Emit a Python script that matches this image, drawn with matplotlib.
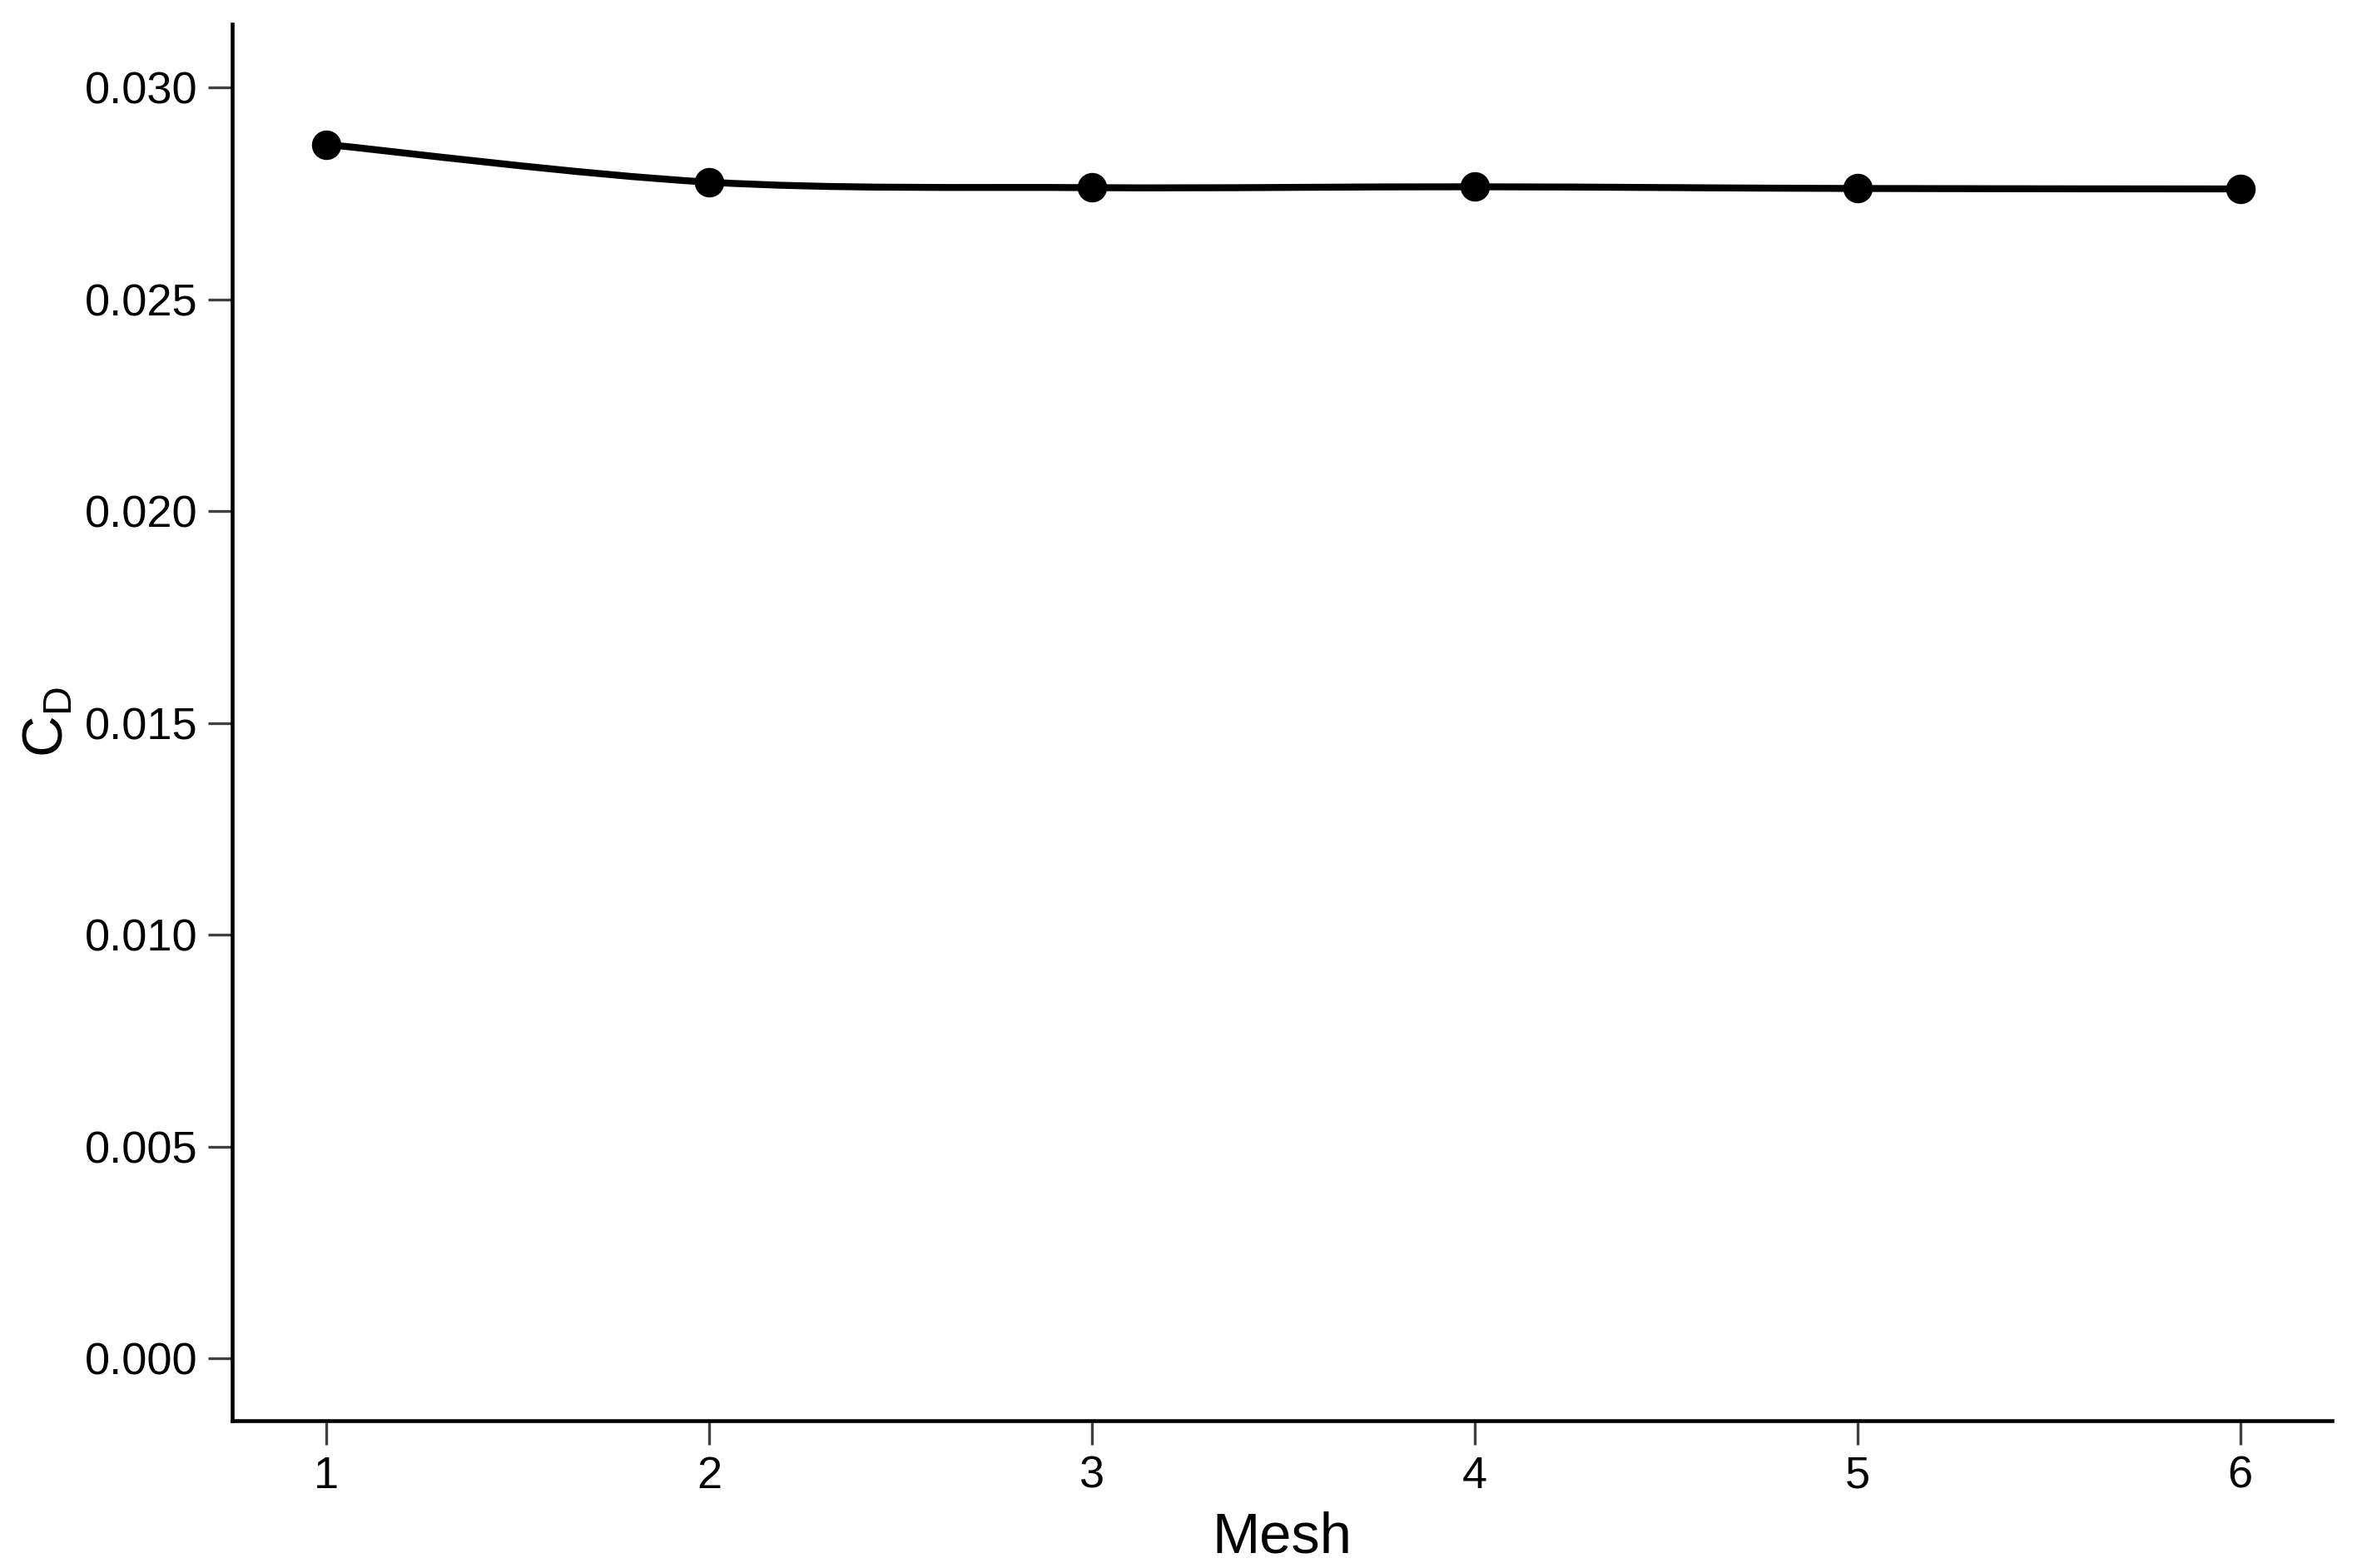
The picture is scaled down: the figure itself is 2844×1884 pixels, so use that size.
import numpy as np
import matplotlib.pyplot as plt
from matplotlib.path import Path
from matplotlib.patches import PathPatch

mesh = [1, 2, 3, 4, 5, 6]
cd = [0.02866, 0.02777, 0.02764, 0.02766, 0.02762, 0.02761]

plt.rcParams['font.family'] = ['Liberation Sans', 'DejaVu Sans']

fig = plt.figure(figsize=(9.48, 6.28), dpi=300)
ax = fig.add_axes([279 / 2844, 1 - 1707 / 1884, (2802 - 279) / 2844, (1707 - 29) / 1884])


def smooth_path(xs, ys, t=0.5):
    # Catmull-Rom style bezier through the data points
    xs = np.asarray(xs, float)
    ys = np.asarray(ys, float)
    verts = [(xs[0], ys[0])]
    codes = [Path.MOVETO]
    n = len(xs)
    for i in range(n - 1):
        i0 = max(i - 1, 0)
        i3 = min(i + 2, n - 1)
        c1 = (xs[i] + (xs[i + 1] - xs[i0]) * t / 3, ys[i] + (ys[i + 1] - ys[i0]) * t / 3)
        c2 = (xs[i + 1] - (xs[i3] - xs[i]) * t / 3, ys[i + 1] - (ys[i3] - ys[i]) * t / 3)
        verts += [c1, c2, (xs[i + 1], ys[i + 1])]
        codes += [Path.CURVE4] * 3
    return Path(verts, codes)


ax.add_patch(PathPatch(smooth_path(mesh, cd), fill=False, edgecolor='black', lw=2.0))
ax.plot(mesh, cd, linestyle='none', marker='o', ms=7.5, color='black')

ax.set_xlim(0.754, 6.24)
ax.set_ylim(-0.00147, 0.0315)
ax.set_xticks(mesh)
ax.set_yticks([0.000, 0.005, 0.010, 0.015, 0.020, 0.025, 0.030])
ax.set_yticklabels(['%.3f' % v for v in ax.get_yticks()])

for s in ['top', 'right']:
    ax.spines[s].set_visible(False)
for s in ['left', 'bottom']:
    ax.spines[s].set_linewidth(1.1)

ax.tick_params(direction='out', length=7, width=0.8, color='#404040',
               labelsize=13, pad=3)

ax.set_xlabel('Mesh', fontsize=16.5, labelpad=4)
ax.set_ylabel('C$_\\mathregular{D}$', fontsize=16.5, labelpad=3)

fig.savefig('out.png', dpi=300)
